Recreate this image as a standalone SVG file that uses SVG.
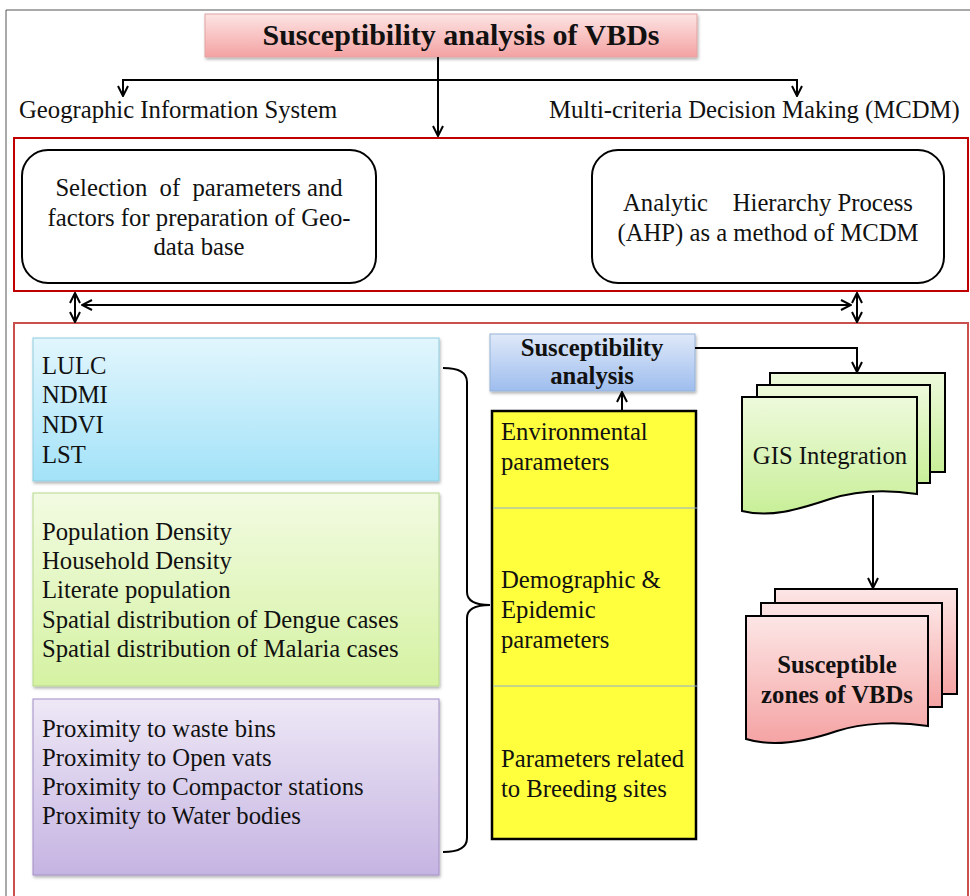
<svg xmlns="http://www.w3.org/2000/svg" width="970" height="896" viewBox="0 0 970 896">
<style>
text{font-family:"Liberation Serif","Times New Roman",serif;fill:#111}
.t24{font-size:24.7px}
.b{font-weight:bold}
.ln{stroke:#000;stroke-width:2;fill:none}
.doc{stroke:#000;stroke-width:2}
</style>
<defs>
<marker id="ah" viewBox="0 0 12 12" refX="11" refY="6" markerWidth="12" markerHeight="12" markerUnits="userSpaceOnUse" orient="auto-start-reverse">
<path d="M1,1 L11,6 L1,11" fill="none" stroke="#000" stroke-width="2"/>
</marker>
<linearGradient id="gPink" x1="0" y1="0" x2="0" y2="1"><stop offset="0" stop-color="#fde4e4"/><stop offset="1" stop-color="#f4a2a2"/></linearGradient>
<linearGradient id="gBlue" x1="0" y1="0" x2="0" y2="1"><stop offset="0" stop-color="#e2f6fd"/><stop offset="1" stop-color="#a3e2f8"/></linearGradient>
<linearGradient id="gGreen" x1="0" y1="0" x2="0" y2="1"><stop offset="0" stop-color="#f2fbe2"/><stop offset="1" stop-color="#d5f2a2"/></linearGradient>
<linearGradient id="gPurple" x1="0" y1="0" x2="0" y2="1"><stop offset="0" stop-color="#eee8f6"/><stop offset="1" stop-color="#c5b4e2"/></linearGradient>
<linearGradient id="gSus" x1="0" y1="0" x2="0" y2="1"><stop offset="0" stop-color="#dfe9f9"/><stop offset="1" stop-color="#9ebdee"/></linearGradient>
<linearGradient id="gDocG" x1="0" y1="0" x2="0" y2="1"><stop offset="0" stop-color="#eefadc"/><stop offset="1" stop-color="#c8ef98"/></linearGradient>
<linearGradient id="gDocP" x1="0" y1="0" x2="0" y2="1"><stop offset="0" stop-color="#fde6e6"/><stop offset="1" stop-color="#f5a3a3"/></linearGradient>
<filter id="sh" x="-5%" y="-5%" width="110%" height="115%"><feDropShadow dx="1" dy="2" stdDeviation="1.5" flood-color="#000" flood-opacity="0.3"/></filter>
</defs>

<!-- frame -->
<rect x="0" y="0" width="970" height="896" fill="#fff"/>
<path d="M6,896 V10 H970" fill="none" stroke="#555" stroke-width="1"/>

<g id="title">
<rect x="205" y="14" width="492" height="43" fill="url(#gPink)" stroke="#e2a3a3" stroke-width="1" filter="url(#sh)"/>
<text x="461" y="45" text-anchor="middle" class="b" font-size="30">Susceptibility analysis of VBDs</text>
</g>

<g id="label-gis"><text x="19" y="118" class="t24">Geographic Information System</text></g>
<g id="label-mcdm"><text x="549" y="118" class="t24">Multi-criteria Decision Making (MCDM)</text></g>

<g id="panel-top">
<rect x="14" y="138" width="954" height="153" fill="none" stroke="#c00000" stroke-width="2"/>
</g>
<g id="selection">
<rect x="22" y="150" width="354" height="133" rx="26" fill="#fff" stroke="#000" stroke-width="2"/>
<text x="199" y="196" text-anchor="middle" class="t24" xml:space="preserve">Selection  of  parameters and</text>
<text x="199" y="226" text-anchor="middle" class="t24">factors for preparation of Geo-</text>
<text x="199" y="255" text-anchor="middle" class="t24">data base</text>
</g>
<g id="ahp">
<rect x="592" y="150" width="352" height="133" rx="26" fill="#fff" stroke="#000" stroke-width="2"/>
<text x="768" y="211" text-anchor="middle" class="t24" xml:space="preserve">Analytic    Hierarchy Process</text>
<text x="768" y="241" text-anchor="middle" class="t24">(AHP) as a method of MCDM</text>
</g>

<g id="panel-bottom">
<rect x="14" y="323" width="954" height="600" fill="none" stroke="#c9504d" stroke-width="2"/>
</g>

<g id="env-list">
<rect x="33" y="338" width="406" height="143" fill="url(#gBlue)" stroke="#8fcde0" stroke-width="1" filter="url(#sh)"/>
<text x="42" y="374" class="t24">LULC</text>
<text x="42" y="403" class="t24">NDMI</text>
<text x="42" y="433" class="t24">NDVI</text>
<text x="42" y="463" class="t24">LST</text>
</g>
<g id="demo-list">
<rect x="33" y="493" width="406" height="193" fill="url(#gGreen)" stroke="#b6d98c" stroke-width="1" filter="url(#sh)"/>
<text x="42" y="540" class="t24">Population Density</text>
<text x="42" y="569" class="t24">Household Density</text>
<text x="42" y="598" class="t24">Literate population</text>
<text x="42" y="628" class="t24">Spatial distribution of Dengue cases</text>
<text x="42" y="657" class="t24">Spatial distribution of Malaria cases</text>
</g>
<g id="breed-list">
<rect x="33" y="699" width="406" height="176" fill="url(#gPurple)" stroke="#a28ec8" stroke-width="1" filter="url(#sh)"/>
<text x="42" y="737" class="t24">Proximity to waste bins</text>
<text x="42" y="766" class="t24">Proximity to Open vats</text>
<text x="42" y="795" class="t24">Proximity to Compactor stations</text>
<text x="42" y="824" class="t24">Proximity to Water bodies</text>
</g>

<g id="susceptibility">
<rect x="490" y="334" width="205" height="57" fill="url(#gSus)" stroke="#95b3d7" stroke-width="1" filter="url(#sh)"/>
<text x="592" y="356" text-anchor="middle" class="t24 b">Susceptibility</text>
<text x="592" y="384" text-anchor="middle" class="t24 b">analysis</text>
</g>

<g id="parameters">
<rect x="492" y="411" width="204" height="428" fill="#ffff3e" stroke="#000" stroke-width="2.5"/>
<line x1="493" y1="508" x2="697" y2="508" stroke="#8eaad6" stroke-width="1"/>
<line x1="493" y1="686" x2="697" y2="686" stroke="#8eaad6" stroke-width="1"/>
<text x="501" y="440" class="t24">Environmental</text>
<text x="501" y="470" class="t24">parameters</text>
<text x="501" y="588" class="t24">Demographic &amp;</text>
<text x="501" y="618" class="t24">Epidemic</text>
<text x="501" y="648" class="t24">parameters</text>
<text x="501" y="767" class="t24">Parameters related</text>
<text x="501" y="797" class="t24">to Breeding sites</text>
</g>

<g id="gis-integration">
<rect x="770" y="373" width="175" height="99" fill="url(#gDocG)" class="doc"/>
<rect x="757" y="385" width="173" height="98" fill="url(#gDocG)" class="doc"/>
<path d="M742,397 H917 V494 C885,489 855,491 830,499 C797,510 770,518 742,511 Z" fill="url(#gDocG)" class="doc"/>
<text x="830" y="464" text-anchor="middle" class="t24">GIS Integration</text>
</g>

<g id="susceptible-zones">
<rect x="775" y="589" width="182" height="105" fill="url(#gDocP)" class="doc"/>
<rect x="761" y="603" width="181" height="104" fill="url(#gDocP)" class="doc"/>
<path d="M746,616 H928 V726 C896,721 862,723 837,731 C802,743 772,747 746,739 Z" fill="url(#gDocP)" class="doc"/>
<text x="837" y="673" text-anchor="middle" class="t24 b">Susceptible</text>
<text x="837" y="703" text-anchor="middle" class="t24 b">zones of VBDs</text>
</g>

<g id="connectors">
<line x1="438" y1="57" x2="438" y2="136" class="ln" marker-end="url(#ah)"/>
<path d="M123,96 V80 H797 V96" class="ln" marker-start="url(#ah)" marker-end="url(#ah)"/>
<line x1="82" y1="305" x2="851" y2="305" class="ln" marker-start="url(#ah)" marker-end="url(#ah)"/>
<line x1="75" y1="293" x2="75" y2="322" class="ln" marker-start="url(#ah)" marker-end="url(#ah)"/>
<line x1="857" y1="293" x2="857" y2="322" class="ln" marker-start="url(#ah)" marker-end="url(#ah)"/>
<path d="M443,368 Q467,368 467,382 V592 Q467,605 490,605 Q467,605 467,618 V838 Q467,852 443,852" class="ln"/>
<line x1="622" y1="410" x2="622" y2="392" class="ln" marker-end="url(#ah)"/>
<path d="M695,348 H857 V372" class="ln" marker-end="url(#ah)"/>
<line x1="873" y1="495" x2="873" y2="588" class="ln" marker-end="url(#ah)"/>
</g>
</svg>
